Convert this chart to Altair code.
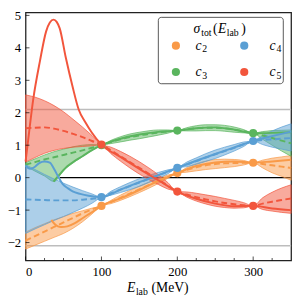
import altair as alt
import pandas as pd

# ---------------- data ----------------
SERIES = ["c2", "c3", "c4", "c5"]
COLORS = ["#f99a48", "#5ab55e", "#5a9fd4", "#f2553c"]

E_GRID = [0, 12.5, 25, 37.5, 50, 62.5, 75, 87.5, 100,
          112.5, 125, 137.5, 150, 162.5, 175, 187.5, 200,
          212.5, 225, 237.5, 250, 262.5, 275, 287.5, 300,
          312.5, 325, 337.5, 350]

C2_MEAN = [-1.94, -1.80, -1.66, -1.52, -1.38, -1.24, -1.10, -0.98, -0.87,
           -0.75, -0.62, -0.49, -0.36, -0.23, -0.10, 0.03, 0.14,
           0.24, 0.32, 0.38, 0.42, 0.44, 0.45, 0.46, 0.46,
           0.42, 0.38, 0.34, 0.30]
C2_HI = [-1.68, -1.54, -1.42, -1.30, -1.20, -1.10, -1.02, -0.94, -0.87,
         -0.70, -0.54, -0.395, -0.26, -0.135, -0.02, 0.08, 0.14,
         0.31, 0.43, 0.51, 0.56, 0.57, 0.56, 0.53, 0.46,
         0.54, 0.60, 0.64, 0.68]
C2_LO = [-2.20, -2.08, -1.96, -1.84, -1.72, -1.56, -1.36, -1.12, -0.87,
         -0.80, -0.70, -0.585, -0.46, -0.325, -0.18, -0.02, 0.14,
         0.17, 0.21, 0.25, 0.28, 0.31, 0.34, 0.39, 0.46,
         0.30, 0.15, 0.04, -0.08]

C3_MEAN = [0.40, 0.48, 0.56, 0.63, 0.70, 0.77, 0.84, 0.92, 1.00,
           1.10, 1.18, 1.25, 1.30, 1.35, 1.39, 1.42, 1.45,
           1.49, 1.52, 1.54, 1.54, 1.52, 1.48, 1.43, 1.37,
           1.30, 1.22, 1.14, 1.06]
C3_HI = [0.46, 0.58, 0.70, 0.80, 0.88, 0.95, 1.00, 1.02, 1.00,
         1.15, 1.26, 1.345, 1.40, 1.445, 1.47, 1.47, 1.45,
         1.54, 1.60, 1.63, 1.63, 1.61, 1.56, 1.48, 1.37,
         1.42, 1.45, 1.46, 1.47]
C3_LO = [0.36, 0.20, 0.05, -0.12, 0.22, 0.45, 0.65, 0.84, 1.00,
         1.05, 1.10, 1.155, 1.20, 1.255, 1.31, 1.37, 1.45,
         1.44, 1.44, 1.45, 1.45, 1.43, 1.40, 1.38, 1.37,
         1.18, 1.00, 0.82, 0.66]

C4_MEAN = [-0.67, -0.68, -0.69, -0.70, -0.70, -0.70, -0.68, -0.65, -0.60,
           -0.48, -0.37, -0.26, -0.15, -0.04, 0.07, 0.18, 0.30,
           0.41, 0.51, 0.62, 0.72, 0.82, 0.92, 1.03, 1.13,
           1.16, 1.18, 1.20, 1.22]
C4_HI = [0.40, 0.25, 0.10, -0.04, -0.17, -0.29, -0.40, -0.50, -0.60,
         -0.42, -0.28, -0.15, -0.03, 0.07, 0.16, 0.24, 0.30,
         0.48, 0.61, 0.74, 0.85, 0.94, 1.02, 1.10, 1.13,
         1.30, 1.44, 1.56, 1.66]
C4_LO = [-1.72, -1.58, -1.45, -1.32, -1.20, -1.07, -0.94, -0.79, -0.60,
         -0.54, -0.46, -0.37, -0.27, -0.15, -0.02, 0.12, 0.30,
         0.34, 0.41, 0.50, 0.59, 0.70, 0.82, 0.96, 1.13,
         1.02, 0.94, 0.88, 0.82]

C5_MEAN = [1.52, 1.54, 1.55, 1.51, 1.44, 1.35, 1.25, 1.13, 1.02,
           0.84, 0.66, 0.48, 0.30, 0.12, -0.06, -0.25, -0.43,
           -0.52, -0.60, -0.67, -0.73, -0.78, -0.82, -0.85, -0.87,
           -0.80, -0.74, -0.69, -0.64]
C5_HI = [2.55, 2.48, 2.37, 2.22, 2.03, 1.80, 1.56, 1.30, 1.02,
         0.94, 0.81, 0.66, 0.49, 0.30, 0.09, -0.15, -0.43,
         -0.44, -0.48, -0.53, -0.58, -0.64, -0.70, -0.77, -0.87,
         -0.62, -0.45, -0.32, -0.22]
C5_LO = [0.48, 0.62, 0.75, 0.84, 0.90, 0.94, 0.96, 0.98, 1.02,
         0.74, 0.51, 0.30, 0.11, -0.06, -0.21, -0.35, -0.43,
         -0.60, -0.72, -0.81, -0.88, -0.92, -0.94, -0.93, -0.87,
         -0.98, -1.03, -1.07, -1.10]

# actual coefficient curves (solid)
C2_E = [34, 38, 42, 47, 55, 65, 75, 85, 95, 100, 125, 150, 175, 200, 225, 250, 275, 300, 325, 350]
C2_V = [-1.30, -1.42, -1.49, -1.52, -1.50, -1.40, -1.25, -1.10, -0.95, -0.87,
        -0.64, -0.38, -0.10, 0.14, 0.36, 0.47, 0.50, 0.46, 0.50, 0.55]
C3_E = [37, 45, 55, 65, 75, 87, 100, 125, 150, 175, 200, 225, 250, 275, 300, 325, 350]
C3_V = [-0.12, 0.10, 0.35, 0.52, 0.66, 0.84, 1.00, 1.20, 1.33, 1.41, 1.45,
        1.52, 1.55, 1.48, 1.37, 1.38, 1.40]
C4_E = [0, 6, 12, 18, 25, 32, 38, 43, 49, 56, 62, 72, 83, 100, 125, 150, 175,
        200, 225, 250, 275, 300, 325, 350]
C4_V = [0.37, 0.27, 0.33, 0.45, 0.50, 0.46, 0.25, 0.03, -0.20, -0.33, -0.42,
        -0.50, -0.56, -0.60, -0.37, -0.14, 0.08, 0.30, 0.52, 0.73, 0.93, 1.13, 1.28, 1.42]
C5_E = [0, 2.6, 10, 19, 27, 32, 37, 41, 45, 53, 62, 70, 79, 87, 100, 125, 150,
        175, 200, 225, 250, 275, 300, 325, 350]
C5_V = [0.5, 1.0, 2.4, 3.6, 4.5, 4.78, 4.87, 4.8, 4.6, 3.7, 2.8, 2.1, 1.7, 1.4,
        1.02, 0.64, 0.27, -0.08, -0.43, -0.65, -0.80, -0.88, -0.87, -0.95, -1.00]

# training points
E_TRAIN = [100, 200, 300]
C2_PTS = [-0.87, 0.14, 0.46]
C3_PTS = [1.00, 1.45, 1.37]
C4_PTS = [-0.60, 0.30, 1.13]
C5_PTS = [1.02, -0.43, -0.87]

GREY_LINES = [2.1, -2.1]
ZERO_LINE = {"E0": 45, "E1": 350, "v": 0}

X_MAJOR = [0, 100, 200, 300]
X_MINOR = [25, 50, 75, 125, 150, 175, 225, 250, 275, 325]
Y_MAJOR = [-2, -1, 0, 1, 2, 3, 4, 5]

# ---------------- tables ----------------
band_rows = []
for s, mean, lo, hi in zip(SERIES, [C2_MEAN, C3_MEAN, C4_MEAN, C5_MEAN],
                           [C2_LO, C3_LO, C4_LO, C5_LO], [C2_HI, C3_HI, C4_HI, C5_HI]):
    for e, m, l, h in zip(E_GRID, mean, lo, hi):
        band_rows.append({"s": s, "E": e, "mean": m, "lo": l, "hi": h})
band_df = pd.DataFrame(band_rows)

solid_rows = []
for s, es, vs in zip(SERIES, [C2_E, C3_E, C4_E, C5_E], [C2_V, C3_V, C4_V, C5_V]):
    for e, v in zip(es, vs):
        solid_rows.append({"s": s, "E": e, "v": v})
solid_df = pd.DataFrame(solid_rows)

pt_rows = []
for s, vs in zip(SERIES, [C2_PTS, C3_PTS, C4_PTS, C5_PTS]):
    for e, v in zip(E_TRAIN, vs):
        pt_rows.append({"s": s, "E": e, "v": v})
pt_df = pd.DataFrame(pt_rows)

W, H = 272, 254
FONT = "Liberation Serif"

xs = alt.Scale(domain=[0, 350], nice=False)
ys = alt.Scale(domain=[-2.55, 5.09], nice=False, zero=False)
cs = alt.Scale(domain=SERIES, range=COLORS)

x_axis = alt.Axis(values=X_MAJOR, ticks=False, domain=False, grid=False,
                  labelFont=FONT, labelFontSize=13, labelColor="black",
                  labelPadding=5, title=None, format="d")
y_axis = alt.Axis(values=Y_MAJOR, ticks=False, domain=False, grid=False,
                  labelFont=FONT, labelFontSize=13, labelColor="black",
                  labelPadding=5, title=None, format="d")


def X(f):
    return alt.X(f, type="quantitative", scale=xs, axis=x_axis)


def Y(f):
    return alt.Y(f, type="quantitative", scale=ys, axis=y_axis)


COL = alt.Color("s:N", scale=cs, legend=None)

grey = alt.Chart(pd.DataFrame({"v": GREY_LINES})).mark_rule(
    color="#bdbdbd", strokeWidth=1.5).encode(y=Y("v"))

zero = alt.Chart(pd.DataFrame([ZERO_LINE])).mark_rule(
    color="black", strokeWidth=1.4).encode(x=X("E0"), x2="E1", y=Y("v"))

bands = alt.Chart(band_df).mark_area(
    interpolate="monotone", fillOpacity=0.5, strokeWidth=0.8, strokeOpacity=0.9
).encode(x=X("E"), y=Y("lo"), y2="hi", color=COL, stroke=alt.Stroke("s:N", scale=cs, legend=None))

dashed = alt.Chart(band_df).mark_line(
    interpolate="monotone", strokeDash=[6, 3.5], strokeWidth=2
).encode(x=X("E"), y=Y("mean"), color=COL)

solid = alt.Chart(solid_df).mark_line(
    interpolate="monotone", strokeWidth=2
).encode(x=X("E"), y=Y("v"), color=COL)

points = alt.Chart(pt_df).mark_circle(size=70, opacity=1).encode(
    x=X("E"), y=Y("v"), color=COL)

xmaj = alt.Chart(pd.DataFrame({"E": X_MAJOR})).mark_tick(
    orient="vertical", size=4, thickness=1, color="black").encode(x=X("E"), y=alt.value(H - 2))
xmin = alt.Chart(pd.DataFrame({"E": X_MINOR})).mark_tick(
    orient="vertical", size=2.5, thickness=1, color="black").encode(x=X("E"), y=alt.value(H - 1.25))
ymaj = alt.Chart(pd.DataFrame({"v": Y_MAJOR})).mark_tick(
    orient="horizontal", size=4, thickness=1, color="black").encode(y=Y("v"), x=alt.value(2))

one = pd.DataFrame({"a": [0]})


def txt(s, x, y, size=13, italic=False, align="left"):
    return alt.Chart(one).mark_text(
        text=s, font=FONT, fontSize=size, fontStyle="italic" if italic else "normal",
        align=align, baseline="alphabetic", color="black"
    ).encode(x=alt.value(x), y=alt.value(y))


# x-axis title: E_lab (MeV)
xt = [txt("E", 104, 286, 14, True), txt("lab", 113, 289, 10),
      txt("(MeV)", 129, 286, 14)]

# legend
box = alt.Chart(one).mark_rect(fill="white", stroke="#555", strokeWidth=1,
                               cornerRadius=3).encode(
    x=alt.value(136), x2=alt.value(264), y=alt.value(5), y2=alt.value(73))
leg_title = [txt("σ", 172, 21, 14, True), txt("tot", 180, 24, 10),
             txt("(", 192, 21, 14), txt("E", 197, 21, 14, True),
             txt("lab", 206, 24, 10), txt(")", 221, 21, 14)]
leg_pos = [(154, 34, 174, 38), (154, 61, 174, 65), (224, 34, 250, 38), (224, 61, 250, 65)]
leg = []
for (cx, cy, tx, ty), col, s in zip(leg_pos, COLORS, SERIES):
    leg.append(alt.Chart(one).mark_circle(size=70, opacity=1, color=col).encode(
        x=alt.value(cx), y=alt.value(cy)))
    leg.append(txt("c", tx, ty, 14, True))
    leg.append(txt(s[1], tx + 7, ty + 3, 10))

chart = alt.layer(
    grey, zero, bands, dashed, solid, points, xmaj, xmin, ymaj,
    *xt, box, *leg_title, *leg
).properties(
    width=W, height=H,
    autosize=alt.AutoSizeParams(type="none"),
    padding={"left": 18, "top": 1, "right": 4, "bottom": 38},
).configure_view(stroke="#222", strokeWidth=1.3)

chart.save("out.html", embed_options={"renderer": "svg", "actions": False})
